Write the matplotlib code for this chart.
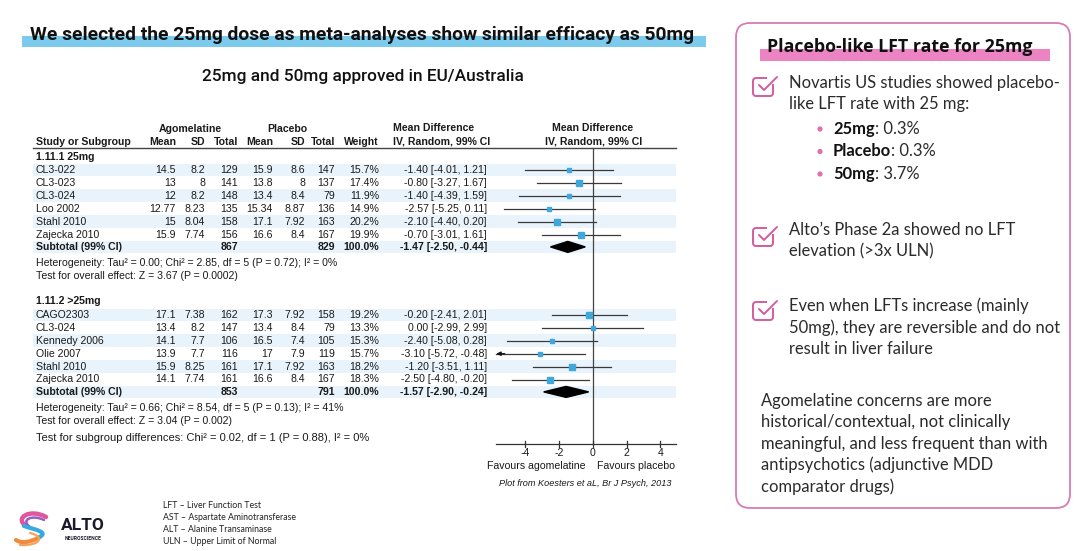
import matplotlib
matplotlib.use("Agg")
import matplotlib.pyplot as plt
from matplotlib.patches import FancyBboxPatch, Rectangle, Polygon, Circle, PathPatch
from matplotlib.path import Path

# ---------------- data ----------------
g1_label = "1.11.1 25mg"
g1_studies = ["CL3-022", "CL3-023", "CL3-024", "Loo 2002", "Stahl 2010", "Zajecka 2010"]
g1_ago_mean = [14.5, 13, 12, 12.77, 15, 15.9]
g1_ago_sd = [8.2, 8, 8.2, 8.23, 8.04, 7.74]
g1_ago_n = [129, 141, 148, 135, 158, 156]
g1_pl_mean = [15.9, 13.8, 13.4, 15.34, 17.1, 16.6]
g1_pl_sd = [8.6, 8, 8.4, 8.87, 7.92, 8.4]
g1_pl_n = [147, 137, 79, 136, 163, 167]
g1_weight = [15.7, 17.4, 11.9, 14.9, 20.2, 19.9]
g1_md = [-1.40, -0.80, -1.40, -2.57, -2.10, -0.70]
g1_lo = [-4.01, -3.27, -4.39, -5.25, -4.40, -3.01]
g1_hi = [1.21, 1.67, 1.59, 0.11, 0.20, 1.61]
g1_sub = {"n_ago": 867, "n_pl": 829, "md": -1.47, "lo": -2.50, "hi": -0.44}
g1_het = "Heterogeneity: Tau\u00b2 = 0.00; Chi\u00b2 = 2.85, df = 5 (P = 0.72); I\u00b2 = 0%"
g1_test = "Test for overall effect: Z = 3.67 (P = 0.0002)"

g2_label = "1.11.2 >25mg"
g2_studies = ["CAGO2303", "CL3-024", "Kennedy 2006", "Olie 2007", "Stahl 2010", "Zajecka 2010"]
g2_ago_mean = [17.1, 13.4, 14.1, 13.9, 15.9, 14.1]
g2_ago_sd = [7.38, 8.2, 7.7, 7.7, 8.25, 7.74]
g2_ago_n = [162, 147, 106, 116, 161, 161]
g2_pl_mean = [17.3, 13.4, 16.5, 17, 17.1, 16.6]
g2_pl_sd = [7.92, 8.4, 7.4, 7.9, 7.92, 8.4]
g2_pl_n = [158, 79, 105, 119, 163, 167]
g2_weight = [19.2, 13.3, 15.3, 15.7, 18.2, 18.3]
g2_md = [-0.20, 0.00, -2.40, -3.10, -1.20, -2.50]
g2_lo = [-2.41, -2.99, -5.08, -5.72, -3.51, -4.80]
g2_hi = [2.01, 2.99, 0.28, -0.48, 1.11, -0.20]
g2_sub = {"n_ago": 853, "n_pl": 791, "md": -1.57, "lo": -2.90, "hi": -0.24}
g2_het = "Heterogeneity: Tau\u00b2 = 0.66; Chi\u00b2 = 8.54, df = 5 (P = 0.13); I\u00b2 = 41%"
g2_test = "Test for overall effect: Z = 3.04 (P = 0.002)"
subgroup_test = "Test for subgroup differences: Chi\u00b2 = 0.02, df = 1 (P = 0.88), I\u00b2 = 0%"

x_ticks = [-4, -2, 0, 2, 4]
axis_range = [-5.7, 4.9]

title = "We selected the 25mg dose as meta-analyses show similar efficacy as 50mg"
subtitle = "25mg and 50mg approved in EU/Australia"
panel_title = "Placebo-like LFT rate for 25mg"
check_items = [
    ["Novartis US studies showed placebo-", "like LFT rate with 25 mg:"],
    ["Alto\u2019s Phase 2a showed no LFT", "elevation (>3x ULN)"],
    ["Even when LFTs increase (mainly", "50mg), they are reversible and do not", "result in liver failure"],
]
bullets = [("25mg", ": 0.3%"), ("Placebo", ": 0.3%"), ("50mg", ": 3.7%")]
closing = ["Agomelatine concerns are more", "historical/contextual, not clinically",
           "meaningful, and less frequent than with", "antipsychotics (adjunctive MDD",
           "comparator drugs)"]
footnotes = ["LFT \u2013 Liver Function Test", "AST \u2013 Aspartate Aminotransferase",
             "ALT \u2013 Alanine Transaminase", "ULN \u2013 Upper Limit of Normal"]

# ---------------- layout ----------------
W, H = 1080, 551
fig = plt.figure(figsize=(W / 100, H / 100), dpi=100)
fig.patch.set_facecolor("white")
ax = fig.add_axes([0, 0, 1, 1])
ax.set_xlim(0, W)
ax.set_ylim(H, 0)
ax.axis("off")

ZERO, UNIT = 592.7, 16.9
X0, X1 = 480, 690
fx = fig.add_axes([X0 / W, 0, (X1 - X0) / W, 1])
fx.set_xlim((X0 - ZERO) / UNIT, (X1 - ZERO) / UNIT)
fx.set_ylim(H, 0)
fx.axis("off")
fx.patch.set_alpha(0)

TF = "Liberation Sans"
HF = "Roboto"
TXT = "#1a1a1a"
SHADE = "#e8f3fb"
BLUE = "#3fa7dc"
PINK = "#d45c9e"

def fmt(v):
    return f"{v:g}"

# Title
ax.add_patch(Rectangle((22, 36), 684, 10.5, color="#7ccbec", zorder=1, lw=0))
ax.text(362, 39.5, title, ha="center", va="baseline", fontsize=13.9, fontweight="bold",
        family=HF, color="#111111", zorder=2)
ax.text(363, 81, subtitle, ha="center", va="baseline", fontsize=12.4, fontweight="medium",
        family=HF, color="#111111")

# Table headers
fs = 7.6
ax.text(190, 129, "Agomelatine", ha="center", va="center", fontsize=fs, fontweight="bold", family=TF, color=TXT)
ax.text(287, 129, "Placebo", ha="center", va="center", fontsize=fs, fontweight="bold", family=TF, color=TXT)
ax.text(393, 128, "Mean Difference", ha="left", va="center", fontsize=fs, fontweight="bold", family=TF, color=TXT)
ax.text(393, 141, "IV, Random, 99% CI", ha="left", va="center", fontsize=fs, fontweight="bold", family=TF, color=TXT)
ax.text(593, 128, "Mean Difference", ha="center", va="center", fontsize=fs, fontweight="bold", family=TF, color=TXT)
ax.text(594, 141, "IV, Random, 99% CI", ha="center", va="center", fontsize=fs, fontweight="bold", family=TF, color=TXT)
ax.text(36, 142, "Study or Subgroup", ha="left", va="center", fontsize=fs, fontweight="bold", family=TF, color=TXT)
col_x = [176, 205, 238, 273, 305, 335, 379]
for cx, h in zip(col_x, ["Mean", "SD", "Total", "Mean", "SD", "Total", "Weight"]):
    ax.text(cx, 142, h, ha="right", va="center", fontsize=fs, fontweight="bold", family=TF, color=TXT)
ax.plot([33, 676], [147.5, 147.5], color="#444444", lw=1.0)

CI_X = 487
ROWH = 12.9

def draw_group(label, y_label, y0, studies, am, asd, an, pm, psd, pn, wt, md, lo, hi, sub, het, test):
    ax.text(36, y_label, label, ha="left", va="center", fontsize=fs, fontweight="bold", family=TF, color=TXT)
    ys = [y0 + ROWH * i for i in range(len(studies))]
    ysub = y0 + ROWH * len(studies) - 0.5
    for i, y in enumerate(ys + [ysub]):
        if i % 2 == 0:
            ax.add_patch(Rectangle((33, y - 6.4), 643, 12.8, color=SHADE, lw=0, zorder=0))
    for i, y in enumerate(ys):
        ax.text(36, y, studies[i], ha="left", va="center", fontsize=fs, family=TF, color=TXT)
        vals = [fmt(am[i]), fmt(asd[i]), str(an[i]), fmt(pm[i]), fmt(psd[i]), str(pn[i]), f"{wt[i]:.1f}%"]
        for cx, v in zip(col_x, vals):
            ax.text(cx, y, v, ha="right", va="center", fontsize=fs, family=TF, color=TXT)
        ax.text(CI_X, y, f"{md[i]:.2f} [{lo[i]:.2f}, {hi[i]:.2f}]", ha="right", va="center",
                fontsize=fs, family=TF, color=TXT)
        l = max(lo[i], axis_range[0])
        r = min(hi[i], axis_range[1])
        fx.plot([l, r], [y, y], color="#3a3a3a", lw=0.9, zorder=3)
        if lo[i] < axis_range[0]:
            fx.annotate("", xy=(axis_range[0], y), xytext=(axis_range[0] + 0.5, y),
                        arrowprops=dict(arrowstyle="-|>", color="#111111", lw=0.9,
                                        mutation_scale=6, shrinkA=0, shrinkB=0), zorder=4)
        fx.plot([md[i]], [y], marker="s", ms=0.21 * wt[i], color=BLUE, mec=BLUE, zorder=5)
    # subtotal
    ax.text(36, ysub, "Subtotal (99% CI)", ha="left", va="center", fontsize=fs, fontweight="bold", family=TF, color=TXT)
    ax.text(col_x[2], ysub, str(sub["n_ago"]), ha="right", va="center", fontsize=fs, fontweight="bold", family=TF, color=TXT)
    ax.text(col_x[5], ysub, str(sub["n_pl"]), ha="right", va="center", fontsize=fs, fontweight="bold", family=TF, color=TXT)
    ax.text(col_x[6], ysub, "100.0%", ha="right", va="center", fontsize=fs, fontweight="bold", family=TF, color=TXT)
    ax.text(CI_X, ysub, f"{sub['md']:.2f} [{sub['lo']:.2f}, {sub['hi']:.2f}]", ha="right", va="center",
            fontsize=fs, fontweight="bold", family=TF, color=TXT)
    dh = 5.5
    fx.add_patch(Polygon([(sub["lo"], ysub), (sub["md"], ysub - dh), (sub["hi"], ysub), (sub["md"], ysub + dh)],
                         closed=True, color="#000000", zorder=5))
    ax.text(36, ysub + 16, het, ha="left", va="center", fontsize=fs, family=TF, color=TXT)
    ax.text(36, ysub + 29, test, ha="left", va="center", fontsize=fs, family=TF, color=TXT)

draw_group(g1_label, 157, 170, g1_studies, g1_ago_mean, g1_ago_sd, g1_ago_n, g1_pl_mean, g1_pl_sd,
           g1_pl_n, g1_weight, g1_md, g1_lo, g1_hi, g1_sub, g1_het, g1_test)
draw_group(g2_label, 301, 315, g2_studies, g2_ago_mean, g2_ago_sd, g2_ago_n, g2_pl_mean, g2_pl_sd,
           g2_pl_n, g2_weight, g2_md, g2_lo, g2_hi, g2_sub, g2_het, g2_test)
ax.text(36, 438, subgroup_test, ha="left", va="center", fontsize=8.0, family=TF, color=TXT)

# Forest axis
AX_Y = 444
fx.plot([0, 0], [147.5, AX_Y], color="#444444", lw=0.9, zorder=2)
fx.plot(axis_range, [AX_Y, AX_Y], color="#333333", lw=0.9)
for t in x_ticks:
    fx.plot([t, t], [AX_Y - 3, AX_Y + 3], color="#333333", lw=0.9)
    fx.text(t, 453, f"{t:g}", ha="center", va="center", fontsize=fs, family=TF, color=TXT)
ax.text(536, 466, "Favours agomelatine", ha="center", va="center", fontsize=fs, family=TF, color=TXT)
ax.text(636, 466, "Favours placebo", ha="center", va="center", fontsize=fs, family=TF, color=TXT)
ax.text(585, 484, "Plot from Koesters et aL, Br J Psych, 2013", ha="center", va="center", fontsize=6.6,
        style="italic", family=TF, color=TXT)

# ---------------- right panel ----------------
ax.add_patch(FancyBboxPatch((736, 23), 334, 485, boxstyle="round,pad=0,rounding_size=14",
                            fc="white", ec="#d77bb3", lw=1.3, zorder=1))
ax.add_patch(Rectangle((760, 49), 290, 12, color="#ec84c3", lw=0, zorder=2))
ax.text(900, 52.5, panel_title, ha="center", va="baseline", fontsize=12.8, fontweight="bold",
        family=["Open Sans", "Lato"], color="#111111", zorder=3)

PF = "Lato"
PFS = 11.9
PC = "#2b2b2b"

def checkbox(x, y):
    ax.add_patch(FancyBboxPatch((x, y), 20, 18, boxstyle="round,pad=0,rounding_size=3",
                                fc="none", ec=PINK, lw=1.4, zorder=3))
    ax.add_patch(Rectangle((x + 14, y - 2), 8, 8, color="white", lw=0, zorder=4))
    ax.plot([x + 6, x + 11, x + 24], [y + 7, y + 12, y - 1], color=PINK, lw=1.4,
            solid_capstyle="round", solid_joinstyle="round", zorder=5)

item_y = [83, 230, 306]
box_y = [78, 228, 302]
for lines, y0, by in zip(check_items, item_y, box_y):
    checkbox(753, by)
    for j, line in enumerate(lines):
        ax.text(789, y0 + j * 21.5, line, ha="left", va="center", fontsize=PFS, family=PF, color=PC, zorder=3)

fig.canvas.draw()
renderer = fig.canvas.get_renderer()
inv = ax.transData.inverted()
for k, (b, rest) in enumerate(bullets):
    y = 129 + k * 22.5
    ax.add_patch(Circle((820, y), 1.9, color="#e06fb0", zorder=3))
    t = ax.text(833, y, b, ha="left", va="center", fontsize=PFS, fontweight="bold", family=PF, color="#111111", zorder=3)
    bb = t.get_window_extent(renderer)
    xr = inv.transform((bb.x1, bb.y0))[0]
    ax.text(xr, y, rest, ha="left", va="center", fontsize=PFS, family=PF, color=PC, zorder=3)

for j, line in enumerate(closing):
    ax.text(761, 401 + j * 21.4, line, ha="left", va="center", fontsize=PFS, family=PF, color=PC, zorder=3)

# ---------------- footer ----------------
for j, f in enumerate(footnotes):
    ax.text(163, 505 + j * 12, f, ha="left", va="center", fontsize=6.3, family="Lato", color="#222222")

# logo swirl
def curve(pts, color, lw):
    codes = [Path.MOVETO] + [Path.CURVE4] * (len(pts) - 1)
    ax.add_patch(PathPatch(Path(pts, codes), fc="none", ec=color, lw=lw, capstyle="round"))

curve([(46, 517), (30, 508), (14, 518), (26, 526)], "#e0569d", 3.2)
curve([(44, 520), (32, 514), (20, 520), (30, 527)], "#9b5bc4", 1.8)
curve([(24, 526), (36, 530), (50, 532), (38, 538)], "#37a9e0", 3.0)
curve([(38, 538), (30, 542), (22, 544), (16, 540)], "#f08a3c", 3.0)
curve([(30, 533), (44, 536), (42, 546), (20, 545)], "#f4a35a", 1.6)
ax.text(83, 525, "ALTO", ha="center", va="center", fontsize=12.5, fontweight="bold",
        family="Roboto", color="#1a1a2a")
ax.text(83, 539, "NEUROSCIENCE", ha="center", va="center", fontsize=3.6, fontweight="bold",
        family="Roboto", color="#1a1a2a")

fig.savefig("out.png", dpi=100, facecolor="white")
